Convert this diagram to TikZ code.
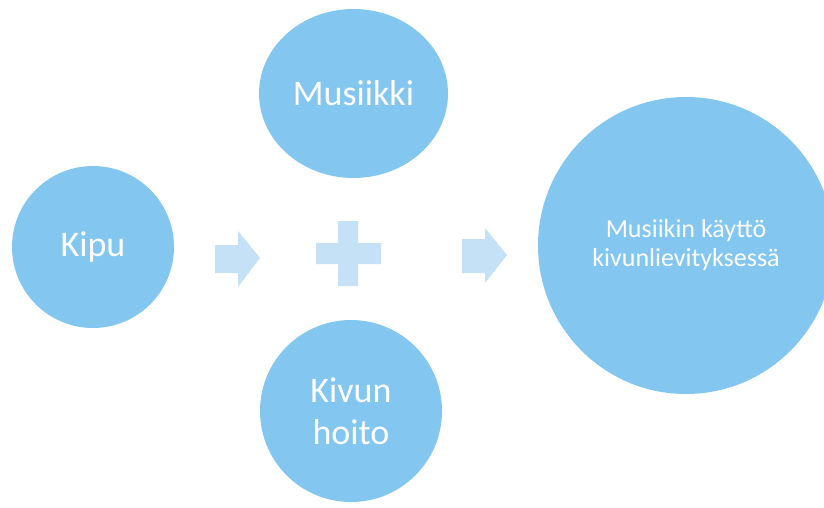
\documentclass[tikz,border=0pt]{standalone}
\usepackage{fontspec}
\setmainfont{Carlito}
\usetikzlibrary{shapes.geometric}
\definecolor{circblue}{RGB}{131,199,240}
\definecolor{arrblue}{RGB}{196,225,245}
\tikzset{
  bubble/.style={ellipse, fill=circblue, inner sep=0pt, text=white, align=center},
  sym/.style={fill=arrblue, draw=none}
}
\begin{document}
\begin{tikzpicture}[x=1pt,y=-1pt]
\useasboundingbox (0,0) rectangle (824,507);
\fill[white] (0,0) rectangle (824,507);
\node[bubble, minimum width=162pt, minimum height=162pt, font=\fontsize{36}{42}\selectfont] (kipu) at (93,247) {Kipu};
\node[bubble, minimum width=189pt, minimum height=169pt, font=\fontsize{36}{42}\selectfont] (mus) at (353.5,93.5) {Musiikki};
\node[bubble, minimum width=182pt, minimum height=182pt, font=\fontsize{36}{42}\selectfont] (hoito) at (351,411) {Kivun\\hoito};
\node[bubble, minimum width=296pt, minimum height=297pt, font=\fontsize{26}{29}\selectfont] (res) at (686,245.5) {Musiikin käyttö\\kivunlievityksessä};
% arrow 1
\fill[sym] (215,245) -- (238,245) -- (238,231) -- (260,258) -- (238,287) -- (238,273) -- (215,273) -- cycle;
% plus
\fill[sym] (338,221) -- (358,221) -- (358,243) -- (381,243) -- (381,264) -- (358,264) -- (358,286) -- (338,286) -- (338,264) -- (316,264) -- (316,243) -- (338,243) -- cycle;
% arrow 2
\fill[sym] (462,239) -- (485,239) -- (485,228) -- (507,255) -- (485,283) -- (485,273) -- (462,273) -- cycle;
\end{tikzpicture}
\end{document}
